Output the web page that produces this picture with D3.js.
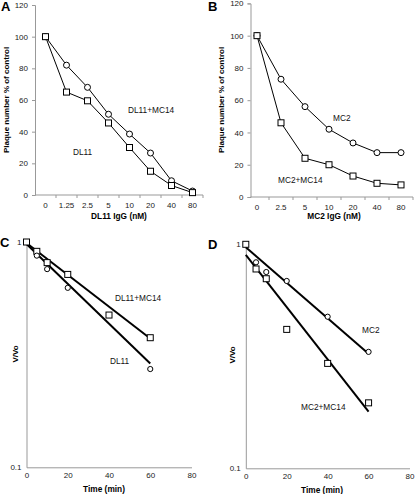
<!DOCTYPE html>
<html><head><meta charset="utf-8">
<script src="https://cdn.jsdelivr.net/npm/d3@7"></script>
<style>
body{margin:0;background:#fff;}
text{font-family:"Liberation Sans",Arial,sans-serif;}
</style></head>
<body><svg id="c" width="416" height="494"></svg>
<script>
// ---- Data ----
const catsA = ["0","1.25","2.5","5","10","20","40","80"];
const dl11mc14 = [100, 82, 68, 51, 38.5, 26.5, 9, 2.5];
const dl11 = [100, 65, 59.5, 45.5, 30, 15, 6, 1.5];

const catsB = ["0","2.5","5","10","20","40","80"];
const mc2 = [100, 73, 56, 42, 33.5, 27.5, 27.5];
const mc2mc14 = [100, 46, 24, 20, 13, 8.5, 7.5];

const timeC_sq = [0, 5, 10, 20, 40, 60];
const dl11mc14_v = [1, 0.909, 0.81, 0.718, 0.474, 0.376];
const timeC_ci = [5, 10, 20, 60];
const dl11_v = [0.87, 0.758, 0.626, 0.273];
const fitT = [0, 60];
const fitC_dl11mc14 = [0.99, 0.373];
const fitC_dl11 = [0.98, 0.289];

const timeD_ci = [5, 10, 20, 40, 60];
const mc2_v = [0.831, 0.752, 0.686, 0.475, 0.331];
const timeD_sq = [0, 5, 10, 20, 40, 60];
const mc2mc14_v = [1, 0.776, 0.702, 0.417, 0.294, 0.196];
const fitD_mc2 = [0.97, 0.325];
const fitD_mc2mc14 = [0.896, 0.179];

const yTicksLin = [0, 20, 40, 60, 80, 100, 120];
const xTicksTime = [0, 20, 40, 60, 80];

const svg = d3.select("#c");
const axisColor = "#999";
const tickFont = 8;

function square(g, x, y, s=6){
  g.append("rect").attr("x", x - s/2).attr("y", y - s/2).attr("width", s).attr("height", s)
   .attr("fill", "#fff").attr("stroke", "#000").attr("stroke-width", 1);
}
function circle(g, x, y, r=3){
  g.append("circle").attr("cx", x).attr("cy", y).attr("r", r)
   .attr("fill", "#fff").attr("stroke", "#000").attr("stroke-width", 1);
}
function styleAxis(g){
  g.selectAll("path.domain").attr("stroke", axisColor);
  g.selectAll(".tick line").attr("stroke", axisColor);
  g.selectAll(".tick text").attr("font-size", tickFont).attr("fill", "#222")
    .attr("font-family", "Liberation Sans, Arial, sans-serif");
}
function letter(t, x, y){
  svg.append("text").attr("x", x).attr("y", y).text(t)
    .attr("font-size", 13).attr("font-weight", "bold");
}
function label(t, x, y){
  svg.append("text").attr("x", x).attr("y", y).text(t).attr("font-size", 8.3).attr("fill", "#111");
}
function ytitle(t, x, y){
  svg.append("text").attr("transform", `translate(${x},${y}) rotate(-90)`)
    .attr("text-anchor", "middle").attr("font-size", 8).attr("font-weight", "bold").text(t);
}
function xtitle(t, x, y){
  svg.append("text").attr("x", x).attr("y", y).attr("text-anchor", "middle")
    .attr("font-size", 8.3).attr("font-weight", "bold").text(t);
}

// ---- Panel category chart ----
function catPanel(opt){
  const x = d3.scaleBand().domain(opt.cats).range(opt.xr);
  const y = d3.scaleLinear().domain([0, 120]).range(opt.yr);
  const cx = c => x(c) + x.bandwidth()/2;
  const g = svg.append("g");
  const ya = g.append("g").attr("transform", `translate(${opt.axX},0)`)
    .call(d3.axisLeft(y).tickValues(yTicksLin).tickSize(3).tickPadding(4));
  styleAxis(ya);
  const xa = g.append("g").attr("transform", `translate(0,${opt.yr[0]})`)
    .call(d3.axisBottom(x).tickSize(0).tickPadding(7));
  styleAxis(xa);
  xa.select("path.domain").remove();
  xa.append("line").attr("x1", opt.axX).attr("x2", opt.xr[1]).attr("stroke", axisColor);
  const bounds = opt.cats.map(c => x(c)).slice(1).concat([opt.xr[1]]);
  bounds.forEach(b => xa.append("line").attr("x1", b).attr("x2", b).attr("y1", 0).attr("y2", 3).attr("stroke", axisColor));
  const line = d3.line().x((d,i) => cx(opt.cats[i])).y(d => y(d));
  opt.series.forEach(s => {
    g.append("path").attr("d", line(s.v)).attr("fill", "none").attr("stroke", "#000").attr("stroke-width", 1);
  });
  opt.series.forEach(s => {
    s.v.forEach((v,i) => s.m === "sq" ? square(g, cx(opt.cats[i]), y(v)) : circle(g, cx(opt.cats[i]), y(v)));
  });
}

catPanel({cats: catsA, xr: [35, 203], yr: [195, 5], axX: 35,
  series: [{v: dl11mc14, m: "ci"}, {v: dl11, m: "sq"}]});
catPanel({cats: catsB, xr: [245, 413], yr: [197, 3.4], axX: 250.5,
  series: [{v: mc2, m: "ci"}, {v: mc2mc14, m: "sq"}]});

// ---- Panel time/log chart ----
function logPanel(opt){
  const x = d3.scaleLinear().domain([0, 80]).range(opt.xr);
  const y = d3.scaleLog().domain([0.1, 1]).range(opt.yr);
  const g = svg.append("g");
  const ya = g.append("g").attr("transform", `translate(${opt.xr[0]},0)`)
    .call(d3.axisLeft(y).tickValues([0.1, 1]).tickFormat(d => d === 1 ? "1" : "0.1").tickSize(0).tickPadding(5));
  styleAxis(ya);
  const xa = g.append("g").attr("transform", `translate(0,${opt.yr[0]})`)
    .call(d3.axisBottom(x).tickValues(xTicksTime).tickSize(0).tickPadding(5));
  styleAxis(xa);
  const line = d3.line().x(d => x(d[0])).y(d => y(d[1]));
  opt.fits.forEach(f => {
    g.append("path").attr("d", line(fitT.map((t,i) => [t, f[i]])))
      .attr("fill", "none").attr("stroke", "#000").attr("stroke-width", 2);
  });
  opt.series.forEach(s => {
    s.t.forEach((t,i) => s.m === "sq" ? square(g, x(t), y(s.v[i]), 6) : circle(g, x(t), y(s.v[i]), 2.6));
  });
}

logPanel({xr: [26.5, 191.5], yr: [467.3, 242],
  fits: [fitC_dl11mc14, fitC_dl11],
  series: [{t: timeC_sq, v: dl11mc14_v, m: "sq"}, {t: timeC_ci, v: dl11_v, m: "ci"}]});
logPanel({xr: [245.8, 409.5], yr: [468.3, 244.3],
  fits: [fitD_mc2, fitD_mc2mc14],
  series: [{t: timeD_ci, v: mc2_v, m: "ci"}, {t: timeD_sq, v: mc2mc14_v, m: "sq"}]});

// ---- Text ----
letter("A", 1, 11); letter("B", 208, 11); letter("C", 0, 247); letter("D", 208, 249);
label("DL11+MC14", 128, 113); label("DL11", 73, 155);
label("MC2", 333, 121); label("MC2+MC14", 278, 183);
label("DL11+MC14", 115, 300.5); label("DL11", 110, 364);
label("MC2", 362, 333); label("MC2+MC14", 301, 409.5);
ytitle("Plaque number % of control", 8.5, 100);
ytitle("Plaque number % of control", 224, 100);
ytitle("V/Vo", 17.5, 354); ytitle("V/Vo", 235, 355);
xtitle("DL11 IgG (nM)", 119, 219);
xtitle("MC2 IgG (nM)", 334, 219);
xtitle("Time (min)", 104, 492);
xtitle("Time (min)", 322, 493);
</script></body></html>
